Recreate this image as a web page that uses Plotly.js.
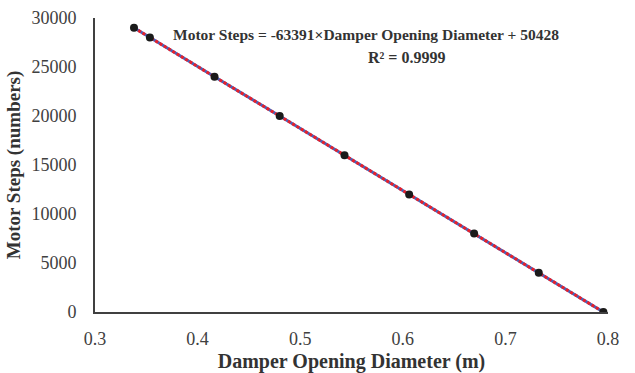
<!DOCTYPE html>
<html><head><meta charset="utf-8">
<script src="https://cdn.plot.ly/plotly-3.0.1.min.js"></script>
<style>html,body{margin:0;padding:0;background:#fff}#chart{width:635px;height:373px}</style>
</head><body><div id="chart"></div>
<script>
const diameter = [0.338, 0.3535, 0.4165, 0.4800, 0.5432, 0.6062, 0.6695, 0.7325, 0.7955];
const motorSteps = [29000, 28000, 24000, 20000, 16000, 12000, 8000, 4000, 0];
const xTicks = [0.3, 0.4, 0.5, 0.6, 0.7, 0.8];
const yTicks = [0, 5000, 10000, 15000, 20000, 25000, 30000];
const equationText = 'Motor Steps = -63391×Damper Opening Diameter + 50428';
const r2Text = 'R² = 0.9999';

const serif = 'Liberation Serif, Times New Roman, serif';
const traces = [
  {x: diameter, y: motorSteps, mode: 'lines', line: {color: '#4a62b8', width: 3}, hoverinfo: 'skip'},
  {x: diameter, y: motorSteps, mode: 'lines', line: {color: '#e8202a', width: 3, dash: '3px,2px'}, hoverinfo: 'skip'},
  {x: diameter, y: motorSteps, mode: 'markers', marker: {color: '#1a1a1a', size: 8}}
];
const layout = {
  width: 635, height: 373,
  margin: {l: 95, r: 27, t: 18, b: 61},
  showlegend: false,
  paper_bgcolor: '#fff', plot_bgcolor: '#fff',
  font: {family: serif, color: '#333'},
  xaxis: {
    range: [0.3, 0.8], tickvals: xTicks, ticktext: xTicks.map(v => v.toFixed(1)),
    showgrid: false, zeroline: false, showline: true, linecolor: '#404040', linewidth: 2,
    ticks: 'outside', ticklen: 9, tickcolor: 'rgba(0,0,0,0)', tickfont: {family: serif, size: 18, color: '#404040'},
    title: {text: 'Damper Opening Diameter (m)', font: {family: serif, size: 20, color: '#333', weight: 'bold'}, standoff: 6}
  },
  yaxis: {
    range: [0, 30000], tickvals: yTicks, ticktext: yTicks.map(String),
    showgrid: false, zeroline: false, showline: true, linecolor: '#404040', linewidth: 2,
    ticks: 'outside', ticklen: 13, tickcolor: 'rgba(0,0,0,0)', tickfont: {family: serif, size: 18, color: '#404040'},
    title: {text: 'Motor Steps (numbers)', font: {family: serif, size: 19, color: '#333', weight: 'bold'}, standoff: 6}
  },
  annotations: [
    {xref: 'paper', yref: 'paper', x: (366-95)/513, y: 1 - (35-18)/294, text: '<b>' + equationText + '</b>', showarrow: false, xanchor: 'center', yanchor: 'middle', font: {family: serif, size: 15.5, color: '#333'}},
    {xref: 'paper', yref: 'paper', x: (406-95)/513, y: 1 - (57-18)/294, text: '<b>' + r2Text + '</b>', showarrow: false, xanchor: 'center', yanchor: 'middle', font: {family: serif, size: 16, color: '#333'}}
  ]
};
Plotly.newPlot('chart', traces, layout, {displayModeBar: false, staticPlot: true});
</script></body></html>
